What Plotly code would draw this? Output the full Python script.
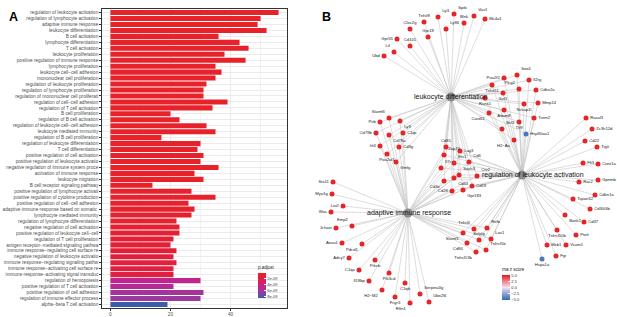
import plotly.graph_objects as go

# ---------------- Panel A data ----------------
terms = [
    "regulation of leukocyte activation", "regulation of lymphocyte activation",
    "adaptive immune response", "leukocyte differentiation", "B cell activation",
    "lymphocyte differentiation", "T cell activation", "leukocyte proliferation",
    "positive regulation of immune response", "lymphocyte proliferation",
    "leukocyte cell−cell adhesion", "mononuclear cell proliferation",
    "regulation of leukocyte proliferation", "regulation of lymphocyte proliferation",
    "regulation of mononuclear cell proliferati", "regulation of cell−cell adhesion",
    "regulation of T cell activation", "B cell proliferation",
    "regulation of B cell activation", "regulation of leukocyte cell−cell adhesion",
    "leukocyte mediated immunity", "regulation of B cell proliferation",
    "regulation of leukocyte differentiation", "T cell differentiation",
    "positive regulation of cell activation", "positive regulation of leukocyte activatio",
    "negative regulation of immune system proce", "activation of immune response",
    "leukocyte migration", "B cell receptor signaling pathway",
    "positive regulation of lymphocyte activati", "positive regulation of cytokine production",
    "positive regulation of cell−cell adhesion", "adaptive immune response based on somatic ",
    "lymphocyte mediated immunity", "regulation of lymphocyte differentiation",
    "negative regulation of cell activation", "positive regulation of leukocyte cell−cell",
    "regulation of T cell proliferation", "antigen receptor−mediated signaling pathwa",
    "immune response−regulating cell surface re", "negative regulation of leukocyte activatio",
    "immune response−regulating signaling pathw", "immune response−activating cell surface re",
    "immune response−activating signal transduc", "regulation of hemopoiesis",
    "positive regulation of T cell activation", "positive regulation of cell adhesion",
    "regulation of immune effector process", "alpha−beta T cell activation",
]
counts = [56, 50, 49, 52, 36, 43, 46, 38, 45, 35,
          37, 35, 32, 31, 31, 39, 34, 20, 23, 32,
          35, 17, 30, 29, 31, 30, 36, 28, 31, 14,
          27, 35, 26, 28, 27, 22, 23, 23, 21, 20,
          22, 21, 22, 21, 21, 30, 21, 31, 30, 19]
p_adjust = [1e-20, 1e-19, 1e-18, 1e-18, 1e-17, 1e-17, 1e-16, 1e-16, 1e-15, 1e-15,
            1e-15, 1e-15, 1e-14, 1e-14, 1e-14, 1e-14, 1e-13, 1e-13, 1e-13, 1e-13,
            1e-12, 1e-12, 1e-12, 1e-11, 1e-11, 1e-11, 1e-11, 5e-11, 8e-11, 1e-10,
            1.5e-10, 2e-10, 3e-10, 4e-10, 5e-10, 6e-10, 7e-10, 8e-10, 9e-10, 1.0e-9,
            1.3e-9, 1.4e-9, 1.5e-9, 1.6e-9, 1.8e-9, 4.9e-9, 5.4e-9, 6.0e-9, 6.4e-9, 8.6e-9]
p_ticks = [2e-9, 4e-9, 6e-9, 8e-9]
p_ticktext = ["2e-09", "4e-09", "6e-09", "8e-09"]
x_ticks = [0, 20, 40]

# ---------------- Panel B data ----------------
categories = ["leukocyte differentiation", "regulation of leukocyte activation",
              "adaptive immune response"]
cat_code = ["D", "R", "A"]
cat_x = [451, 522, 408]
cat_y = [97, 175, 213]

genes = ["Ubd", "Lif", "Gpr55", "Cd101", "Clec2g", "Gpr18", "Tnfsf8", "Lyl1", "Ly86", "Spib",
         "Blnk", "Vav1", "Ms4a1",
         "Sox4", "Pou2f2", "Il2rg", "Tnfsf11", "Plcg2", "Cdkn2a", "Ikzf1", "Runx1", "Nckap1l",
         "Mmp14", "Adam8", "Card11", "Trem2", "Tlr9", "Bcl3", "Hsp90aa1", "H2−Aa",
         "Rasal3", "Zc3h12d", "Cd22", "Tigit", "Flt3", "Coro1a", "Gpnmb", "Rac2", "Cdkn1a",
         "Tspan32", "Cd300lb", "Bank1", "Cd37", "Tnfrsf10b", "Ptafr", "Mzb1", "Vcam1", "Fgr",
         "Hspa1a",
         "Stx11", "Myo1g", "Lat2", "Was", "Emp2", "Jchain", "Anxa1", "Pdcd1", "Adcy7", "Prkcb",
         "C1qa", "Pik3cd", "Il18bp", "H2−M2", "C1qb", "Fcgr3", "Rftn1", "Serpina3g", "Ube2l6",
         "Slamf6", "Pirb", "Cd79b", "Cd79a", "Irf4", "Pou2af1", "Ly9", "C1qc", "Cd3g", "Gmfg",
         "Cd81", "Zap70", "Lag3", "Ets1", "Cd6", "Il7r", "Sash3", "Cnr2", "Cd44", "Cd3e", "Cd19",
         "Cd28", "Gpr183",
         "Tnfsf4", "Relb", "Slamf1", "Selplg", "Lax1", "Cd84", "Tnfrsf1b", "Tnfrsf13b"]
gene_x = [384, 394, 397, 410, 410, 428, 424, 438, 446, 454, 464, 474, 485,
          517, 504, 529, 492, 519, 536, 503, 485, 524, 538, 504, 489, 534, 519, 502, 526, 514,
          586, 592, 585, 597, 583, 598, 598, 579, 595, 573, 590, 565, 584, 557, 576, 547, 566,
          556, 542,
          333, 332, 343, 331, 352, 336, 342, 362, 349, 375, 359, 389, 369, 382, 405, 395, 410,
          420, 429,
          389, 380, 376, 389, 380, 387, 400, 403, 399, 396,
          446, 444, 460, 454, 469, 441, 459, 477, 454, 444, 472, 452, 463,
          474, 487, 463, 479, 491, 467, 486, 476]
gene_y = [56, 52, 39, 46, 29, 37, 22, 17, 29, 14, 23, 16, 19,
          75, 78, 80, 85, 89, 90, 93, 98, 104, 103, 110, 113, 118, 122, 129, 134, 140,
          118, 129, 141, 147, 163, 164, 180, 182, 195, 199, 209, 215, 222, 230, 235, 245, 245,
          256, 259,
          182, 194, 206, 212, 226, 228, 243, 244, 258, 260, 270, 273, 281, 290, 283, 297, 303,
          294, 302,
          118, 122, 133, 135, 146, 154, 121, 133, 147, 162,
          147, 155, 151, 163, 162, 168, 175, 176, 178, 181, 186, 191, 190,
          229, 228, 233, 240, 239, 243, 250, 252]
gene_sets = (["D"] * 13 + ["DR"] * 17 + ["R"] * 19 + ["A"] * 19 + ["DA"] * 10
             + ["DRA"] * 13 + ["RA"] * 8)
gene_z = ([5.0] * 28 + [-4.6] + [5.0] * 19 + [-4.6] + [5.0] * 50)
label_pos = ["middle left", "top left", "middle left", "top center", "top center", "top center",
             "top center", "top right", "top right", "top right", "top center", "top right",
             "middle right",
             "top right", "middle left", "middle right", "bottom center", "top left",
             "middle right", "bottom center", "bottom center", "bottom center", "middle right",
             "bottom center", "bottom left", "middle right", "bottom center", "top right",
             "middle right", "bottom left",
             "middle right", "middle right", "middle right", "middle right", "middle right",
             "middle right", "middle right", "middle right", "middle right", "middle right",
             "middle right", "bottom right", "middle right", "bottom center", "middle right",
             "middle right", "middle right", "middle right", "bottom center",
             "middle left", "middle left", "middle left", "middle left", "top left",
             "middle left", "middle left", "bottom left", "middle left", "bottom center",
             "middle left", "bottom center", "middle left", "bottom left", "bottom center",
             "bottom center", "bottom left", "top right", "top right",
             "top left", "middle left", "middle left", "bottom right", "middle left",
             "bottom center", "bottom right", "middle right", "middle right", "bottom right",
             "top center", "top right", "middle right", "top right", "top right", "top right",
             "top right", "top right", "bottom right", "bottom left", "middle right",
             "middle left", "bottom right",
             "top left", "top right", "bottom left", "top center", "top right", "bottom left",
             "top right", "bottom left"]
z_ticks = [5.0, 2.5, 0.0, -2.5, -5.0]
z_ticktext = ["5.0", "2.5", "0.0", "−2.5", "−5.0"]

W, H = 617, 317
FONT = "Liberation Sans, Arial, sans-serif"

fig = go.Figure()

# ---------------- Panel A ----------------
bar_scale = [[0.0, "#3E5BA9"], [0.25, "#9A3A9F"], [0.45, "#C4228B"],
             [0.7, "#DC1F55"], [0.85, "#E31F38"], [1.0, "#E8222A"]]
fig.add_trace(go.Bar(
    x=counts, y=terms, orientation="h", width=0.85,
    marker=dict(color=[-p for p in p_adjust], colorscale=bar_scale,
                cmin=-8.6e-9, cmax=0, line=dict(width=0),
                showscale=True,
                colorbar=dict(
                    x=258 / W, xanchor="left", y=1 - 263 / H, yanchor="top",
                    len=35, lenmode="pixels", thickness=8, xpad=0, ypad=0,
                    outlinewidth=0, ticks="inside", ticklen=2, tickcolor="white",
                    tickvals=[-v for v in p_ticks], ticktext=p_ticktext,
                    tickfont=dict(size=4, color="#333", family=FONT),
                    title=dict(text="p.adjust", side="top",
                               font=dict(size=4.5, color="#222", family=FONT)),
                )),
    xaxis="x", yaxis="y", showlegend=False, hoverinfo="x+y",
))

# ---------------- Panel B ----------------
ex, ey = [], []
for gx, gy, s in zip(gene_x, gene_y, gene_sets):
    for code, cx, cy in zip(cat_code, cat_x, cat_y):
        if code in s:
            ex += [gx, cx, None]
            ey += [gy, cy, None]
fig.add_trace(go.Scatter(x=ex, y=ey, mode="lines",
                         line=dict(color="#C6C6C6", width=0.6),
                         xaxis="x2", yaxis="y2", showlegend=False, hoverinfo="skip"))
fig.add_trace(go.Scatter(x=cat_x, y=cat_y, mode="markers",
                         marker=dict(size=9, color="#8C8C8C", line=dict(width=0)),
                         xaxis="x2", yaxis="y2", showlegend=False, text=categories,
                         hoverinfo="text"))
z_scale = [[0.0, "#2E6DB4"], [0.25, "#8E9FD2"], [0.5, "#EEE4EE"],
           [0.75, "#F0808A"], [1.0, "#E41A1C"]]
fig.add_trace(go.Scatter(
    x=gene_x, y=gene_y, mode="markers+text", text=genes, textposition=label_pos,
    textfont=dict(size=4.2, color="#222", family=FONT),
    marker=dict(size=5, color=gene_z, colorscale=z_scale, cmin=-5.3, cmax=5.3,
                line=dict(width=0), showscale=True,
                colorbar=dict(
                    x=502 / W, xanchor="left", y=1 - 265 / H, yanchor="top",
                    len=35, lenmode="pixels", thickness=8, xpad=0, ypad=0,
                    outlinewidth=0, ticks="inside", ticklen=2, tickcolor="white",
                    tickvals=z_ticks, ticktext=z_ticktext,
                    tickfont=dict(size=4, color="#333", family=FONT),
                    title=dict(text="rna z score", side="top",
                               font=dict(size=4.5, color="#222", family=FONT)),
                )),
    xaxis="x2", yaxis="y2", showlegend=False, hoverinfo="text",
))
cat_shift = [0, 11, 1]
for name, cx, cy, sh in zip(categories, cat_x, cat_y, cat_shift):
    fig.add_annotation(x=cx, y=cy, xref="x2", yref="y2", text=name, showarrow=False,
                       xshift=sh, font=dict(size=7, color="#111", family=FONT))

fig.add_annotation(x=7 / W, y=1 - 8 / H, xref="paper", yref="paper", text="<b>A</b>",
                   showarrow=False, font=dict(size=12.5, color="black", family=FONT))
fig.add_annotation(x=326 / W, y=1 - 8 / H, xref="paper", yref="paper", text="<b>B</b>",
                   showarrow=False, font=dict(size=12.5, color="black", family=FONT))

fig.update_layout(
    width=W, height=H, margin=dict(l=0, r=0, t=0, b=0),
    paper_bgcolor="white", plot_bgcolor="white",
    font=dict(family=FONT),
    bargap=0.15,
    xaxis=dict(domain=[102 / W, 287 / W], range=[-2.8, 58.8], anchor="y",
               tickvals=x_ticks, ticks="outside", ticklen=2, tickwidth=0.5,
               tickcolor="#333", tickfont=dict(size=4.7, color="#4D4D4D", family=FONT),
               showgrid=True, gridcolor="#EBEBEB", gridwidth=0.8,
               minor=dict(tickvals=[10, 30, 50], showgrid=True, gridcolor="#F2F2F2",
                          gridwidth=0.5, ticks=""),
               zeroline=False, showline=True, linecolor="#333", linewidth=0.6,
               mirror=True, automargin=False, fixedrange=True),
    yaxis=dict(domain=[1 - 308 / H, 1 - 9 / H], type="category",
               range=[len(terms) - 0.4, -0.6], anchor="x",
               tickmode="array", tickvals=terms, ticks="outside", ticklen=2,
               tickwidth=0.5, tickcolor="#333",
               tickfont=dict(size=4.7, color="#4D4D4D", family=FONT),
               showgrid=True, gridcolor="#EBEBEB", gridwidth=0.6,
               zeroline=False, showline=True, linecolor="#333", linewidth=0.6,
               mirror=True, automargin=False, fixedrange=True),
    xaxis2=dict(domain=[300 / W, 1], range=[300, 617], visible=False, anchor="y2",
                fixedrange=True),
    yaxis2=dict(domain=[0, 1], range=[317, 0], visible=False, anchor="x2",
                fixedrange=True),
)

fig.write_html("out.html", config={"displayModeBar": False},
               post_script="document.body.style.margin='0';"
                           "document.body.style.overflow='hidden';")
